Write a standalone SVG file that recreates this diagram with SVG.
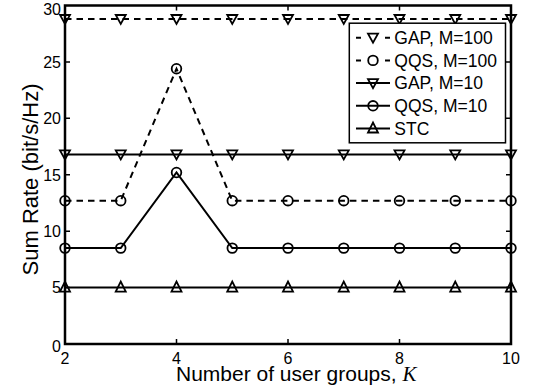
<svg xmlns="http://www.w3.org/2000/svg" width="534" height="389" viewBox="0 0 534 389">
<defs>
<style>
.ax{fill:none;stroke:#000;stroke-width:2.5}
.tk{fill:none;stroke:#000;stroke-width:1.5}
.ln{fill:none;stroke:#000;stroke-width:2}
.dash{stroke-dasharray:6.5 5}
.mk{fill:none;stroke:#000;stroke-width:1.8}
.tl{font-family:"Liberation Sans",Arial,sans-serif;font-size:16px;fill:#000}
.lab{font-family:"Liberation Sans",Arial,sans-serif;fill:#000}
.lg{font-family:"Liberation Sans",Arial,sans-serif;font-size:17.5px;fill:#000}
</style>
<path id="tdn" d="M-5,-4 L5,-4 L0,5 Z"/>
<path id="tup" d="M-5,4 L5,4 L0,-6 Z"/>
<circle id="cir" r="4.8"/>
</defs>
<rect x="0" y="0" width="534" height="389" fill="#fff"/>

<g id="series">
<g id="gap100">
<polyline class="ln dash" points="65,19 511,19"/>
<g class="mk">
<use href="#tdn" x="65" y="19"/><use href="#tdn" x="120.75" y="19"/><use href="#tdn" x="176.5" y="19"/><use href="#tdn" x="232.25" y="19"/><use href="#tdn" x="288" y="19"/><use href="#tdn" x="343.75" y="19"/><use href="#tdn" x="399.5" y="19"/><use href="#tdn" x="455.25" y="19"/><use href="#tdn" x="511" y="19"/>
</g>
</g>
<g id="qqs100">
<polyline class="ln dash" points="65,200.7 120.75,200.7 176.5,68.7 232.25,200.7 288,200.7 343.75,200.7 399.5,200.7 455.25,200.7 511,200.7"/>
<g class="mk">
<use href="#cir" x="65" y="200.7"/><use href="#cir" x="120.75" y="200.7"/><use href="#cir" x="176.5" y="68.7"/><use href="#cir" x="232.25" y="200.7"/><use href="#cir" x="288" y="200.7"/><use href="#cir" x="343.75" y="200.7"/><use href="#cir" x="399.5" y="200.7"/><use href="#cir" x="455.25" y="200.7"/><use href="#cir" x="511" y="200.7"/>
</g>
</g>
<g id="gap10">
<polyline class="ln" points="65,154.4 511,154.4"/>
<g class="mk">
<use href="#tdn" x="65" y="154.4"/><use href="#tdn" x="120.75" y="154.4"/><use href="#tdn" x="176.5" y="154.4"/><use href="#tdn" x="232.25" y="154.4"/><use href="#tdn" x="288" y="154.4"/><use href="#tdn" x="343.75" y="154.4"/><use href="#tdn" x="399.5" y="154.4"/><use href="#tdn" x="455.25" y="154.4"/><use href="#tdn" x="511" y="154.4"/>
</g>
</g>
<g id="qqs10">
<polyline class="ln" points="65,248.1 120.75,248.1 176.5,172.5 232.25,248.1 288,248.1 343.75,248.1 399.5,248.1 455.25,248.1 511,248.1"/>
<g class="mk">
<use href="#cir" x="65" y="248.1"/><use href="#cir" x="120.75" y="248.1"/><use href="#cir" x="176.5" y="172.5"/><use href="#cir" x="232.25" y="248.1"/><use href="#cir" x="288" y="248.1"/><use href="#cir" x="343.75" y="248.1"/><use href="#cir" x="399.5" y="248.1"/><use href="#cir" x="455.25" y="248.1"/><use href="#cir" x="511" y="248.1"/>
</g>
</g>
<g id="stc">
<polyline class="ln" points="65,287.6 511,287.6"/>
<g class="mk">
<use href="#tup" x="65" y="287.6"/><use href="#tup" x="120.75" y="287.6"/><use href="#tup" x="176.5" y="287.6"/><use href="#tup" x="232.25" y="287.6"/><use href="#tup" x="288" y="287.6"/><use href="#tup" x="343.75" y="287.6"/><use href="#tup" x="399.5" y="287.6"/><use href="#tup" x="455.25" y="287.6"/><use href="#tup" x="511" y="287.6"/>
</g>
</g>
</g>

<g id="axes">
<rect class="ax" x="65" y="5.5" width="446" height="338.5"/>
<path class="tk" d="M176.5,344v-5M288,344v-5M399.5,344v-5M176.5,5.5v5M288,5.5v5M399.5,5.5v5M65,287.6h5M65,231.2h5M65,174.8h5M65,118.3h5M65,61.9h5M511,287.6h-5M511,231.2h-5M511,174.8h-5M511,118.3h-5M511,61.9h-5"/>
<g class="tl" text-anchor="end">
<text x="61" y="351.5">0</text>
<text x="61" y="293.4">5</text>
<text x="61" y="237">10</text>
<text x="61" y="180.6">15</text>
<text x="61" y="124.1">20</text>
<text x="61" y="67.7">25</text>
<text x="61" y="15">30</text>
</g>
<g class="tl" text-anchor="middle">
<text x="65" y="364">2</text>
<text x="176.5" y="364">4</text>
<text x="288" y="364">6</text>
<text x="399.5" y="364">8</text>
<text x="511" y="364">10</text>
</g>
<text class="lab" x="176" y="381" font-size="21">Number of user groups, <tspan font-family="'Liberation Serif',serif" font-style="italic">K</tspan></text>
<text class="lab" transform="translate(38,179.5) rotate(-90)" text-anchor="middle" font-size="22">Sum Rate (bit/s/Hz)</text>
</g>

<g id="legend">
<rect x="349.3" y="23.2" width="156.2" height="119.6" fill="#fff" stroke="#000" stroke-width="1.5"/>
<line class="ln" x1="356" y1="37.7" x2="390" y2="37.7" stroke-dasharray="5 24"/>
<use class="mk" href="#tdn" x="373" y="37.7"/>
<text class="lg" x="394.3" y="44">GAP, M=100</text>
<line class="ln" x1="356" y1="60.4" x2="390" y2="60.4" stroke-dasharray="5 24"/>
<use class="mk" href="#cir" x="373" y="60.4"/>
<text class="lg" x="394.3" y="66.7">QQS, M=100</text>
<line class="ln" x1="356" y1="83.1" x2="390" y2="83.1"/>
<use class="mk" href="#tdn" x="373" y="83.1"/>
<text class="lg" x="394.3" y="89.4">GAP, M=10</text>
<line class="ln" x1="356" y1="105.8" x2="390" y2="105.8"/>
<use class="mk" href="#cir" x="373" y="105.8"/>
<text class="lg" x="394.3" y="112.1">QQS, M=10</text>
<line class="ln" x1="356" y1="128.5" x2="390" y2="128.5"/>
<use class="mk" href="#tup" x="373" y="128.5"/>
<text class="lg" x="394.3" y="134.8">STC</text>
</g>
</svg>
